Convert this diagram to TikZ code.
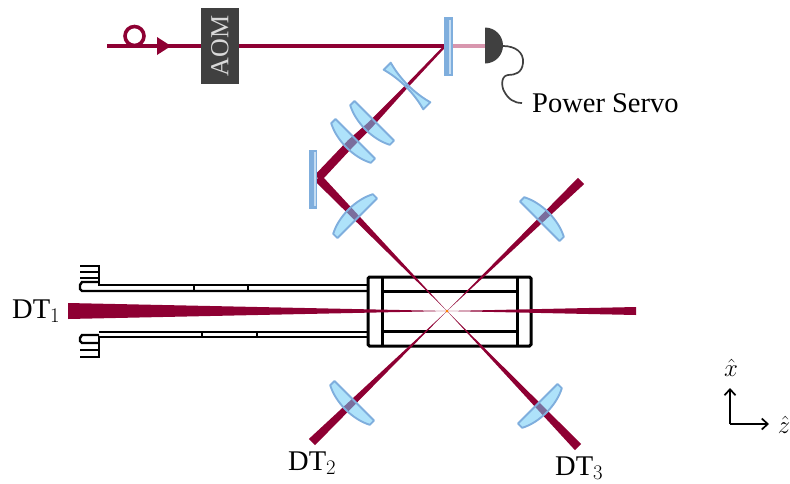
\documentclass[tikz,border=0pt]{standalone}
\usepackage{fontspec}
\setmainfont{Liberation Serif}
\usetikzlibrary{arrows.meta, positioning, calc}
\definecolor{crimson}{HTML}{8E0033}
\definecolor{crimsoft}{HTML}{D896AE}
\definecolor{graphite}{HTML}{404040}
\definecolor{glass}{HTML}{6BCAF5}
\definecolor{glassedge}{HTML}{7FAEDD}
\definecolor{glasssoft}{HTML}{C4DCF2}
\tikzset{
  beam/.style    = {fill=crimson},
  fibre/.style   = {draw=crimson, line width=3.3pt},
  lensbody/.style = {draw=glassedge, line width=1.9pt, line join=round,
                   fill=glass, fill opacity=0.55},
  labl/.style    = {font=\fontsize{28.5}{31}\selectfont, inner sep=0pt, anchor=base west},
  cell/.style    = {draw=black, line width=3pt},
  tube/.style    = {draw=black, line width=2.4pt},
  axisarr/.style = {-{Straight Barb[length=6pt,width=11pt]}, line width=1.7pt},
  convex/.pic    = {\path[lensbody] (-28,-6) -- (28,-6) -- (28,0)
                     .. controls (12,8.5) and (-12,8.5) .. (-28,0) -- cycle;},
  concave/.pic   = {\path[lensbody] (-28,-5) .. controls (-10,0) and (10,0) .. (28,-5)
                     -- (28,5) .. controls (10,0) and (-10,0) .. (-28,5) -- cycle;},
  mirror/.pic    = {\fill[glassedge] (-4.2,-29.5) rectangle (4.2,29.5);
                    \fill[glasssoft] (0.8,-27) rectangle (2.4,27);},
}
\begin{document}
\begin{tikzpicture}[x=1pt, y=-1pt]
  \useasboundingbox (0,0) rectangle (790,483);

  % beam path points
  \coordinate (fstart) at (107,46);
  \coordinate (split)  at (445,46);
  \coordinate (fold)   at (318,178);
  \coordinate (focus)  at (447,311);
  \coordinate (endone) at (68,311);
  \coordinate (endout) at (636,311);
  \coordinate (endtwo) at (312,442);
  \coordinate (endthree) at (578,447);
  \coordinate (endback) at (581,181);
  \coordinate (lensa) at (407,86);
  \coordinate (lensb) at (370,125);
  \coordinate (lensc) at (351,143);

  % vacuum cell
  \draw[cell, rounded corners=1.5pt] (368,277) rectangle (531,346);
  \draw[cell] (382,277) -- (382,346);
  \draw[cell] (517,277) -- (517,346);
  \draw[cell] (382,291) -- (517,291);
  \draw[cell] (382,331) -- (517,331);

  % tube and flanges
  \draw[tube] (80,266) -- (99,266) -- (99,285) -- (368,285);
  \draw[tube] (80,272) -- (99,272);
  \draw[tube] (80,278) -- (99,278);
  \draw[tube] (99,282) -- (82,282) -- (80,285) -- (80,289) -- (82,291) -- (368,291);
  \draw[tube] (99,332) -- (368,332);
  \draw[tube] (368,337) -- (99,337) -- (99,357) -- (80,357);
  \draw[tube] (80,350) -- (99,350);
  \draw[tube] (99,335) -- (82,335) -- (80,338) -- (80,341) -- (82,343) -- (99,343);
  \foreach \tx in {194,248} \draw[tube, line width=1.2pt] (\tx,285) -- (\tx,291);
  \foreach \tx in {202,257} \draw[tube, line width=1.2pt] (\tx,332) -- (\tx,337);

  % fibre and AOM
  \draw[fibre] (fstart) -- (split);
  \draw[draw=crimson, line width=3.6pt] (134.5,36) circle (9.5);
  \coordinate (tip) at (171,46);
  \fill[beam] (tip) -- (157,37) -- (157,55) -- cycle;
  \node[fill=graphite, text=white!85!black, rotate=90, minimum width=76pt, minimum height=38pt,
        inner sep=0pt, font=\fontsize{26}{28}\selectfont] (aom) at (220,46) {AOM};

  % pick-off to detector
  \draw[draw=crimsoft, line width=3.3pt] (split) -- (486,46);
  \fill[graphite] (485,27.5) arc[start angle=90, end angle=-90, x radius=18, y radius=-18] -- cycle;
  \coordinate (det) at (503,46);
  \node[labl] (servo) at (532,112) {Power Servo};
  \coordinate (wireend) at (522,103);
  \draw[graphite, line width=1.7pt] (det) .. controls (515,46) and (524,52) .. (523,63)
    .. controls (522,73) and (515,75) .. (508,75)
    .. controls (500,76) and (502,88) .. (504,91)
    .. controls (508,99) and (514,103) .. (wireend);

  % tapered beams
  \fill[beam] ($(split)+(0.8,0.8)$) -- ($(lensa)+(1.2,1.2)$) -- ($(lensb)+(2.2,2.2)$) -- ($(lensc)+(2.9,2.9)$) -- ($(fold)+(3.1,3.1)$)
    -- ($(fold)+(-3.1,-3.1)$) -- ($(lensc)+(-2.9,-2.9)$) -- ($(lensb)+(-2.2,-2.2)$) -- ($(lensa)+(-1.2,-1.2)$) -- ($(split)+(-0.8,-0.8)$) -- cycle;
  \fill[beam] ($(fold)+(3.1,-3.1)$) -- (focus) -- ($(fold)+(-3.1,3.1)$) -- cycle;
  \fill[beam] ($(endthree)+(3.1,-3.1)$) -- (focus) -- ($(endthree)+(-3.1,3.1)$) -- cycle;
  \fill[beam] ($(endback)+(3.1,3.1)$) -- (focus) -- ($(endback)+(-3.1,-3.1)$) -- cycle;
  \fill[beam] ($(endtwo)+(3.1,3.1)$) -- (focus) -- ($(endtwo)+(-3.1,-3.1)$) -- cycle;
  \fill[beam] ($(endone)+(0,-8)$) -- (focus) -- ($(endone)+(0,8)$) -- cycle;
  \fill[beam] ($(endout)+(0,-4)$) -- (focus) -- ($(endout)+(0,4)$) -- cycle;
  \fill[orange] (focus) circle (1.5);

  % mirrors
  \pic at (448.5,46.5) {mirror};
  \pic at (313.2,179) {mirror};

  % lenses
  \pic[rotate=-45] at (lensa) {concave};
  \pic[rotate=-45] at (lensb) {convex};
  \pic[rotate=-45] at (lensc) {convex};
  \pic[rotate=-135] at (353,214) {convex};
  \pic[rotate=135] at (544,217) {convex};
  \pic[rotate=-45] at (350,405) {convex};
  \pic[rotate=45] at (542,408) {convex};

  % labels
  \node[labl] (dtone) at (12,318) {DT$_1$};
  \node[labl] (dttwo) at (288,470) {DT$_2$};
  \node[labl] (dtthree) at (555,475) {DT$_3$};

  % axes
  \coordinate (origin) at (730,424);
  \node[font=\fontsize{26}{28}\selectfont, inner sep=0pt] (xhat) at (731,368) {$\hat{x}$};
  \node[font=\fontsize{26}{28}\selectfont, inner sep=0pt] (zhat) at (784,425) {$\hat{z}$};
  \draw[axisarr] (origin) -- (730,388);
  \draw[axisarr] (origin) -- (769,424);
\end{tikzpicture}
\end{document}
